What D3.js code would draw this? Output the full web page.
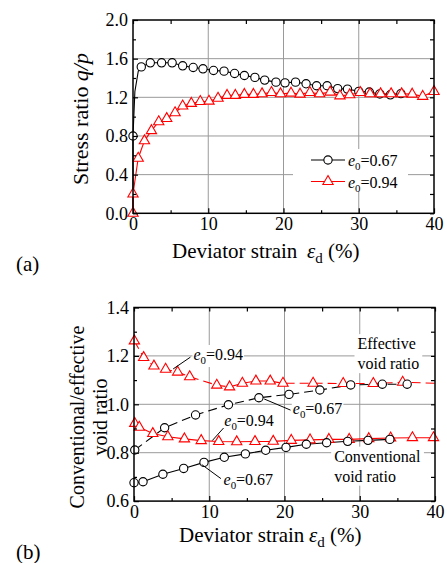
<!DOCTYPE html>
<html>
<head>
<meta charset="utf-8">
<script src="https://cdn.jsdelivr.net/npm/d3@7"></script>
<style>
  body { margin: 0; background: #fff; }
  svg { display: block; }
</style>
</head>
<body>
<svg width="447" height="563"></svg>
<script>
// ---- data: (a) stress ratio ----
var strainA67 = [0, 1.1, 2.3, 3.8, 5.2, 6.6, 8.0, 9.3, 10.7, 12.1, 13.5, 14.8, 16.2, 17.5, 19.0, 20.2, 21.6, 23.0, 24.4, 25.8, 27.2, 28.5, 30.0, 31.4, 32.8, 34.2, 35.6];
var ratioA67  = [0.80, 1.515, 1.557, 1.557, 1.557, 1.526, 1.509, 1.495, 1.478, 1.471, 1.447, 1.426, 1.406, 1.378, 1.357, 1.35, 1.357, 1.34, 1.32, 1.32, 1.29, 1.285, 1.262, 1.255, 1.235, 1.226, 1.238];
// steep start of the e0=0.67 curve (no markers)
var riseStrainA67 = [0, 0, 0.25, 0.7];
var riseRatioA67  = [0, 0.80, 1.26, 1.47];

var strainA94 = [0, 0, 0.69, 1.52, 2.45, 3.42, 4.48, 5.59, 6.6, 7.75, 8.94, 10.1, 11.3, 12.5, 13.6, 14.8, 16.0, 17.15, 18.4, 19.6, 21.0, 22.2, 23.5, 24.8, 26.2, 27.5, 28.8, 30.2, 31.5, 32.9, 34.3, 35.7, 37.1, 38.5, 40.0];
var ratioA94  = [0, 0.20, 0.57, 0.75, 0.855, 0.947, 0.98, 1.04, 1.11, 1.137, 1.157, 1.16, 1.19, 1.22, 1.22, 1.23, 1.23, 1.236, 1.25, 1.236, 1.243, 1.233, 1.25, 1.236, 1.254, 1.215, 1.226, 1.25, 1.236, 1.236, 1.236, 1.236, 1.233, 1.21, 1.26];

// ---- data: (b) void ratios ----
var effStrain94 = [0.05, 1.28, 2.65, 4.2, 5.8, 7.4, 11.0, 12.7, 14.4, 16.2, 18.1, 19.8, 23.8, 27.8, 31.8, 35.7];
var effVoid94   = [1.262, 1.193, 1.158, 1.145, 1.133, 1.114, 1.079, 1.072, 1.087, 1.096, 1.096, 1.087, 1.087, 1.086, 1.086, 1.091];
var effTailStrain94 = [40];
var effTailVoid94   = [1.087];

var effStrain67 = [0.1, 4.07, 8.18, 12.55, 16.6, 20.6, 24.7, 28.8, 33.0, 36.3];
var effVoid67   = [0.811, 0.903, 0.956, 0.998, 1.027, 1.041, 1.059, 1.08, 1.083, 1.083];

var convStrain94 = [0.1, 0.7, 2.5, 4.5, 6.7, 8.93, 11.26, 13.65, 16.08, 18.5, 20.9, 23.4, 25.9, 28.6, 31.2, 34.1, 37.0, 39.8];
var convVoid94   = [0.921, 0.905, 0.879, 0.866, 0.857, 0.85, 0.846, 0.845, 0.846, 0.847, 0.851, 0.853, 0.855, 0.855, 0.858, 0.861, 0.862, 0.862];

var convStrain67 = [0, 1.2, 3.84, 6.6, 9.3, 12.0, 14.8, 17.5, 20.2, 22.9, 25.6, 28.4, 31.1, 34.0];
var convVoid67   = [0.676, 0.68, 0.711, 0.735, 0.76, 0.781, 0.795, 0.81, 0.822, 0.835, 0.841, 0.847, 0.851, 0.855];

// ---- ticks ----
var xTicks = [0, 10, 20, 30, 40];
var xMinor = [5, 15, 25, 35];
var yTicksA = [0, 0.4, 0.8, 1.2, 1.6, 2.0];
var yMinorA = [0.2, 0.6, 1.0, 1.4, 1.8];
var yTicksB = [0.6, 0.8, 1.0, 1.2, 1.4];
var yMinorB = [0.7, 0.9, 1.1, 1.3];

var RED = "#ff0000";
var FONT = "'Liberation Serif'";
var svg = d3.select("svg");

function zip(xs, ys) { return xs.map((v, i) => [v, ys[i]]); }

//Builds a framed plot with grid and inner ticks
function makePanel(left, top, w, h, yDomain, yTicks, yMinor) {
  var g = svg.append("g").attr("transform", "translate(" + left + "," + top + ")");
  var x = d3.scaleLinear().domain([0, 40]).range([0, w]);
  var y = d3.scaleLinear().domain(yDomain).range([h, 0]);

  //grid
  g.append("g").selectAll("line").data(xTicks.slice(1, -1)).join("line")
    .attr("x1", d => x(d)).attr("x2", d => x(d)).attr("y1", 0).attr("y2", h)
    .attr("stroke", "#9a9a9a").attr("stroke-width", 1);
  g.append("g").selectAll("line").data(yTicks.slice(1, -1)).join("line")
    .attr("y1", d => y(d)).attr("y2", d => y(d)).attr("x1", 0).attr("x2", w)
    .attr("stroke", "#9a9a9a").attr("stroke-width", 1);

  var layer = g.append("g");

  function styleAxis(a, keepText) {
    a.attr("font-size", 18);
    a.select(".domain").remove();
    a.selectAll("line").attr("stroke-width", 1.2);
    if (!keepText) a.selectAll("text").remove();
    else a.selectAll("text").attr("fill", "#000");
  }

  //axes with inner ticks
  styleAxis(g.append("g").attr("transform", "translate(0," + h + ")")
    .call(d3.axisBottom(x).tickValues(xTicks).tickSize(-5).tickPadding(4).tickFormat(d3.format("d"))), true);
  styleAxis(g.append("g")
    .call(d3.axisLeft(y).tickValues(yTicks).tickSize(-5).tickPadding(5).tickFormat(d3.format(".1f"))), true);

  styleAxis(g.append("g").attr("transform", "translate(0," + h + ")")
    .call(d3.axisBottom(x).tickValues(xMinor).tickSize(-3)));
  styleAxis(g.append("g")
    .call(d3.axisTop(x).tickValues(xTicks.concat(xMinor)).tickSize(-4)));
  styleAxis(g.append("g")
    .call(d3.axisLeft(y).tickValues(yMinor).tickSize(-3)));
  styleAxis(g.append("g").attr("transform", "translate(" + w + ",0)")
    .call(d3.axisRight(y).tickValues(yTicks.concat(yMinor)).tickSize(-4)));

  //frame
  g.append("rect").attr("width", w).attr("height", h)
    .attr("fill", "none").attr("stroke", "#000").attr("stroke-width", 1.5);

  return { g: g, layer: layer, x: x, y: y };
}

function drawSeries(p, pts, color, dash) {
  p.layer.append("path").datum(pts)
    .attr("d", d3.line().x(d => p.x(d[0])).y(d => p.y(d[1])))
    .attr("fill", "none").attr("stroke", color).attr("stroke-width", 1.1)
    .attr("stroke-dasharray", dash || null);
}

function drawMarkers(p, pts, kind, color) {
  var sym = d3.symbol().type(kind === "tri" ? d3.symbolTriangle : d3.symbolCircle)
    .size(kind === "tri" ? 46 : 54);
  p.layer.append("g").selectAll("path").data(pts).join("path")
    .attr("transform", d => "translate(" + p.x(d[0]) + "," + p.y(d[1]) + ")")
    .attr("d", sym).attr("fill", "#fff").attr("stroke", color).attr("stroke-width", 1.1);
}

//"e0=0.67" style label
function e0Text(sel, value, size) {
  sel.style("font-family", FONT);
  sel.append("tspan").attr("font-style", "italic").text("e");
  sel.append("tspan").attr("font-size", size * 0.68).attr("dy", 4).text("0");
  sel.append("tspan").attr("dy", -4).text("=" + value);
}

function whiteBack(g, textSel, pad) {
  var b = textSel.node().getBBox();
  g.insert("rect", function() { return textSel.node(); })
    .attr("x", b.x - pad).attr("y", b.y - 1).attr("width", b.width + 2 * pad).attr("height", b.height + 2)
    .attr("fill", "#fff");
}

// ================= (a) =================
var pa = makePanel(133, 20, 301, 193.3, [0, 2.0], yTicksA, yMinorA);

var lineA67 = zip(riseStrainA67, riseRatioA67).concat(zip(strainA67, ratioA67).slice(1));
drawSeries(pa, lineA67, "#000");
drawSeries(pa, zip(strainA94, ratioA94), RED);
drawMarkers(pa, zip(strainA67, ratioA67), "circ", "#000");
drawMarkers(pa, zip(strainA94, ratioA94), "tri", RED);

//legend
var leg = pa.g.append("g");
leg.append("rect").attr("x", 160).attr("y", 129).attr("width", 115).attr("height", 43).attr("fill", "#fff");
[{ v: "0.67", c: "#000", k: "circ", y: 140 }, { v: "0.94", c: RED, k: "tri", y: 161.5 }].forEach(function(e) {
  leg.append("line").attr("x1", 178).attr("x2", 212).attr("y1", e.y).attr("y2", e.y)
    .attr("stroke", e.c).attr("stroke-width", 1.1);
  var sym = d3.symbol().type(e.k === "tri" ? d3.symbolTriangle : d3.symbolCircle).size(e.k === "tri" ? 46 : 54);
  leg.append("path").attr("transform", "translate(195," + e.y + ")").attr("d", sym)
    .attr("fill", "#fff").attr("stroke", e.c).attr("stroke-width", 1.1);
  var t = leg.append("text").attr("x", 215).attr("y", e.y + 6).attr("font-size", 16);
  e0Text(t, e.v, 16);
});

//titles
var ta = svg.append("text").attr("transform", "translate(88,119) rotate(-90)")
  .attr("text-anchor", "middle").attr("font-size", 22);
ta.append("tspan").text("Stress ratio ");
ta.append("tspan").attr("font-style", "italic").text("q/p");

function xTitle(xStart, yBase, epsX) {
  var t = svg.append("text").attr("x", xStart).attr("y", yBase).attr("font-size", 21);
  t.append("tspan").text("Deviator strain");
  t.append("tspan").attr("x", epsX).attr("font-style", "italic").text("\u03b5");
  t.append("tspan").attr("font-size", 15).attr("dy", 5).text("d");
  t.append("tspan").attr("dy", -5).text(" (%)");
}
xTitle(172, 258, 307);
svg.append("text").attr("x", 16).attr("y", 271).attr("font-size", 21).text("(a)");

// ================= (b) =================
var pb = makePanel(134, 307.5, 301, 193.6, [0.6, 1.4], yTicksB, yMinorB);

drawSeries(pb, zip(effStrain94, effVoid94).concat(zip(effTailStrain94, effTailVoid94)), RED, "9,5");
drawSeries(pb, zip(effStrain67, effVoid67), "#000", "9,5");
drawSeries(pb, zip(convStrain94, convVoid94).concat([[40, convVoid94[convVoid94.length - 1]]]), RED);
drawSeries(pb, zip(convStrain67, convVoid67), "#000");
drawMarkers(pb, zip(effStrain94, effVoid94), "tri", RED);
drawMarkers(pb, zip(effStrain67, effVoid67), "circ", "#000");
drawMarkers(pb, zip(convStrain94, convVoid94), "tri", RED);
drawMarkers(pb, zip(convStrain67, convVoid67), "circ", "#000");

//annotations: label position and leader line, in data units
var notes = [
  { v: "0.94", tx: 7.9, ty: 1.183, lx1: 5.2, ly1: 1.146, lx2: 7.5, ly2: 1.195 },
  { v: "0.67", tx: 21.1, ty: 0.96, lx1: 17.3, ly1: 1.022, lx2: 20.8, ly2: 0.976 },
  { v: "0.94", tx: 12.0, ty: 0.91, lx1: 10.4, ly1: 0.850, lx2: 11.9, ly2: 0.902 },
  { v: "0.67", tx: 11.9, ty: 0.667, lx1: 9.0, ly1: 0.751, lx2: 11.55, ly2: 0.693 }
];
var ann = pb.g.append("g");
notes.forEach(function(n) {
  var t = ann.append("text").attr("x", pb.x(n.tx)).attr("y", pb.y(n.ty)).attr("font-size", 16);
  e0Text(t, n.v, 16);
  whiteBack(ann, t, 1);
  ann.append("line").attr("x1", pb.x(n.lx1)).attr("y1", pb.y(n.ly1))
    .attr("x2", pb.x(n.lx2)).attr("y2", pb.y(n.ly2)).attr("stroke", "#000").attr("stroke-width", 1);
});

var blocks = [
  { lines: ["Effective", "void ratio"], tx: 29.7, ty: 1.228 },
  { lines: ["Conventional", "void ratio"], tx: 26.6, ty: 0.763 }
];
blocks.forEach(function(bk) {
  var t = ann.append("text").attr("x", pb.x(bk.tx)).attr("y", pb.y(bk.ty)).attr("font-size", 16)
    .style("font-family", FONT);
  bk.lines.forEach(function(s, i) {
    t.append("tspan").attr("x", pb.x(bk.tx)).attr("dy", i ? 20 : 0).text(s);
  });
  whiteBack(ann, t, 3);
});

var tb = svg.append("text").attr("transform", "translate(84,417) rotate(-90)")
  .attr("text-anchor", "middle").attr("font-size", 20);
tb.append("tspan").attr("x", 0).text("Conventional/effective");
tb.append("tspan").attr("x", 0).attr("dy", 23).text("void ratio");

xTitle(179, 542, 309);
svg.append("text").attr("x", 16).attr("y", 559).attr("font-size", 21).text("(b)");

//every text in the serif face
svg.selectAll("text").style("font-family", FONT);
</script>
</body>
</html>
